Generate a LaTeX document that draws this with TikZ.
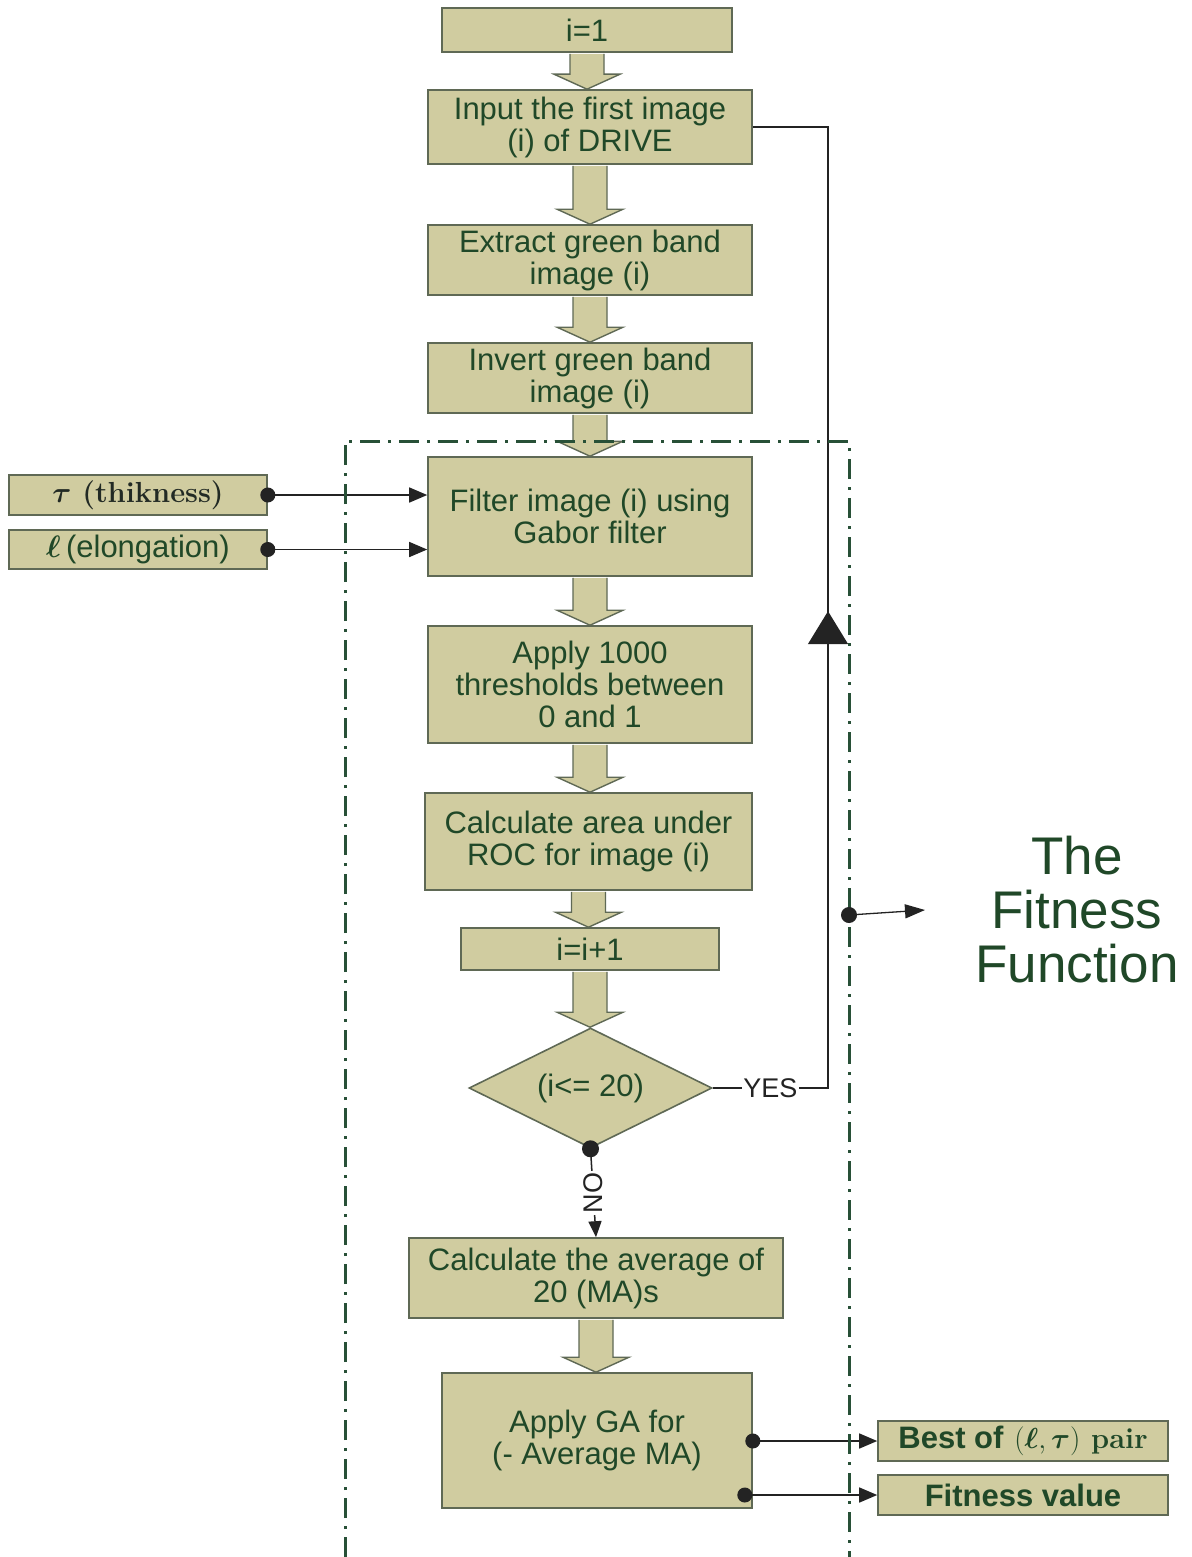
\RequirePackage{fix-cm}
\documentclass[tikz,border=0pt]{standalone}
\usepackage{amsmath}
\usepackage{fontspec}
\newfontfamily\arial{Liberation Sans}
\usetikzlibrary{shapes.geometric,arrows.meta,calc,decorations.markings}
\definecolor{khaki}{RGB}{208,204,160}
\definecolor{bordergray}{RGB}{95,105,85}
\definecolor{txtgreen}{RGB}{32,72,40}
\definecolor{framegreen}{RGB}{40,80,55}
\definecolor{linegray}{RGB}{35,35,35}
\tikzset{
  fbox/.style={draw=bordergray, fill=khaki, line width=1.6pt, text=txtgreen,
    font=\arial\fontsize{31}{32}\selectfont, align=center, inner sep=0pt},
  conn/.style={draw=linegray, line width=1.5pt},
  dotarrow/.style={conn, {Circle[length=15pt]}-{Triangle[length=18pt,width=15pt]}, shorten <=-7.5pt},
  lbl/.style={fill=white, inner sep=1.5pt, text=linegray, font=\arial\fontsize{27}{28}\selectfont},
}
\newcommand\flowarrow[2]{%
  \path let \p1=(#1.south), \p2=(#2.north) in
    [fill=khaki, draw=bordergray, line width=1.4pt, line join=miter]
    (\x1-17pt,\y1-1pt) -- (\x1-17pt,\y2+15pt) -- (\x1-33pt,\y2+15pt) -- (\x1,\y2)
    -- (\x1+33pt,\y2+15pt) -- (\x1+17pt,\y2+15pt) -- (\x1+17pt,\y1-1pt);
}
\begin{document}
\begin{tikzpicture}[x=1pt,y=-1pt]
\useasboundingbox (0,0) rectangle (1191,1557);
\fill[white] (0,0) rectangle (1191,1557);

% main column
\node[fbox, minimum width=290pt, minimum height=44pt] (n1) at (587,30) {i=1};
\node[fbox, minimum width=324pt, minimum height=74pt] (input) at (590,127) {Input the first image\\(i) of DRIVE};
\node[fbox, minimum width=324pt, minimum height=70pt] (extract) at (590,260) {Extract green band\\image (i)};
\node[fbox, minimum width=324pt, minimum height=70pt] (invert) at (590,378) {Invert green band\\image (i)};
\node[fbox, minimum width=324pt, minimum height=119pt] (filter) at (590,516.5) {Filter image (i) using\\Gabor filter};
\node[fbox, minimum width=324pt, minimum height=117pt] (thresh) at (590,684.5) {Apply 1000\\thresholds between\\0 and 1};
\node[fbox, minimum width=327pt, minimum height=97pt] (roc) at (588.5,841.5) {Calculate area under\\ROC for image (i)};
\node[fbox, minimum width=258pt, minimum height=42pt] (incr) at (590,949) {i=i+1};
\node[fbox, diamond, aspect=2, minimum width=243pt, minimum height=120pt] (cond) at (590.5,1088) {(i<= 20)};
\node[fbox, minimum width=374pt, minimum height=80pt] (avg) at (596,1278) {Calculate the average of\\20 (MA)s};
\node[fbox, minimum width=310pt, minimum height=135pt] (ga) at (597,1440.5) {Apply GA for\\(- Average MA)};

% side boxes
\node[fbox, minimum width=258pt, minimum height=40pt, font=\bfseries\fontsize{29}{30}\selectfont, text=linegray!80!txtgreen] (tau) at (138,495) {$\boldsymbol{\tau}$ (thikness)};
\node[fbox, minimum width=258pt, minimum height=39pt] (ell) at (138,549.5) {$\boldsymbol{\ell}$\,(elongation)};
\node[fbox, minimum width=290pt, minimum height=40pt, font=\bfseries\fontsize{29}{30}\selectfont] (best) at (1023,1441) {{\arial\bfseries\fontsize{31}{32}\selectfont Best of} $(\boldsymbol{\ell},\boldsymbol{\tau})$ pair};
\node[fbox, minimum width=290pt, minimum height=40pt, font=\arial\bfseries\fontsize{31}{32}\selectfont] (fit) at (1023,1495) {Fitness value};

% fitness text
\node[text=txtgreen, align=center, font=\arial\fontsize{53}{54}\selectfont, inner sep=0pt] (fitfun) at (1077,910) {The\\Fitness\\Function};

% block arrows
\flowarrow{n1}{input}
\flowarrow{input}{extract}
\flowarrow{extract}{invert}
\flowarrow{invert}{filter}
\flowarrow{filter}{thresh}
\flowarrow{thresh}{roc}
\flowarrow{roc}{incr}
\flowarrow{incr}{cond}
\flowarrow{avg}{ga}

% inputs
\draw[dotarrow] (tau.east) -- (tau.east -| filter.west);
\draw[dotarrow] (ell.east) -- (ell.east -| filter.west);

% outputs
\draw[dotarrow] (ga.east |- best.west) -- (best.west);
\draw[dotarrow] ([xshift=-8pt]ga.east |- fit.west) -- (fit.west);

% loop back
\coordinate (fbx) at (828,0);
\draw[conn, postaction=decorate, decoration={markings,
    mark=at position 592pt with {\arrow{Triangle[length=33pt,width=40pt]}}}]
  (cond.east) -- node[lbl]{YES} (cond.east -| fbx) -- (input.east -| fbx) -- (input.east);

% NO branch
\draw[conn, {Circle[length=17pt]}-{Triangle[length=16pt,width=13pt]}, shorten <=-8.5pt]
  (cond.south) -- node[lbl, rotate=90]{NO} (avg.north);

% frame
\draw[framegreen, line width=3pt, dash pattern=on 20pt off 8pt on 3pt off 8pt]
  (345,1557) -- (345,441) -- (849,441) -- (849,1557);

% fitness function pointer
\coordinate (fdot) at (849,915);
\coordinate (ftip) at (925,910);
\draw[conn, line width=1.3pt, {Circle[length=16pt]}-{Triangle[length=20pt,width=14pt]}, shorten <=-8pt] (fdot) -- (ftip);
\end{tikzpicture}
\end{document}
